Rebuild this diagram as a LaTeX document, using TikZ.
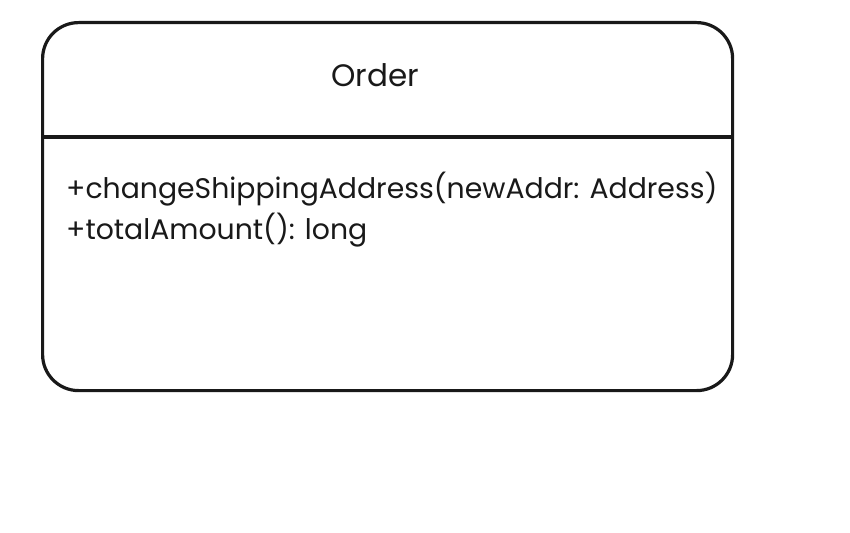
\documentclass[tikz,border=0pt]{standalone}
\usepackage{fontspec}
\setmainfont{Poppins}
\begin{document}
\begin{tikzpicture}[x=1pt,y=-1pt,
  line/.style={line width=3.2pt,draw=black!90},
  txt/.style={inner sep=0pt,font=\fontsize{28.3}{34}\selectfont,text=black!90}]
\useasboundingbox (0,0) rectangle (850,532);
\fill[white] (0,0) rectangle (850,532);
\node[line,rounded corners=36pt,minimum width=690pt,minimum height=368pt,anchor=north west,inner sep=0pt] (box) at (41,21) {};
\coordinate (dl) at (41,137);
\coordinate (dr) at (731,137);
\draw[line] (dl) -- (dr);
\node[txt,anchor=base,font=\fontsize{31}{36}\selectfont] (title) at (375,87) {Order};
\node[txt,anchor=base west] (m1) at (66,198) {+changeShippingAddress(newAddr: Address)};
\node[txt,anchor=base west] (m2) at (66,239) {+totalAmount(): long};
\end{tikzpicture}
\end{document}
